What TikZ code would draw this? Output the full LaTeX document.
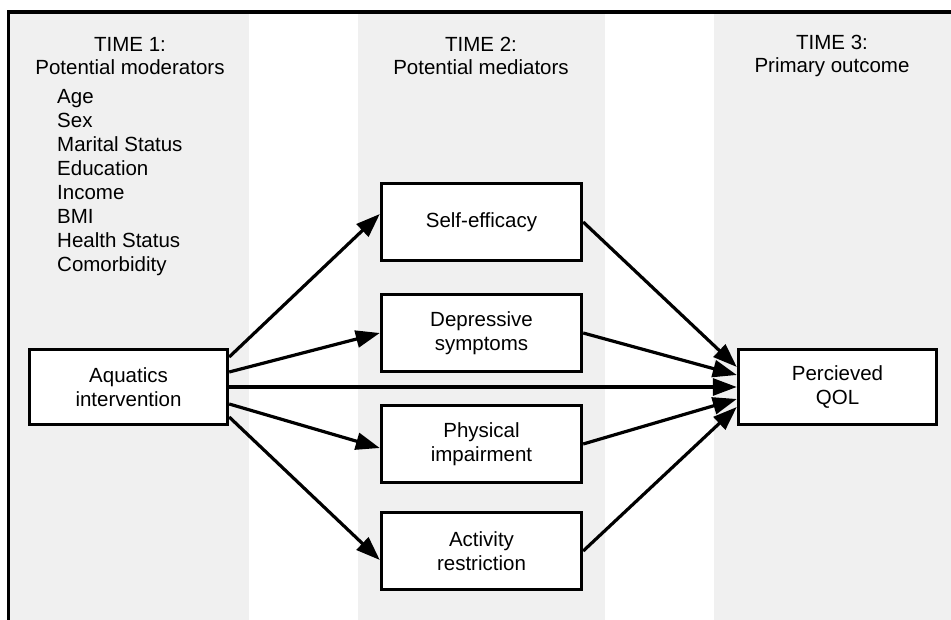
\documentclass[tikz,border=0pt]{standalone}
\usepackage{fontspec}
\setmainfont{Liberation Sans}
\usetikzlibrary{arrows.meta}
\definecolor{bandgray}{RGB}{240,240,240}

\begin{document}
\begin{tikzpicture}[x=1pt,y=-1pt,
    every node/.style={font=\fontsize{20.5}{24}\selectfont},
    box/.style={draw,line width=3.4pt,fill=white,minimum width=198pt,minimum height=75pt,align=center,inner sep=2pt},
    medbox/.style={box,minimum width=200pt,minimum height=77pt},
    title/.style={align=center,font=\fontsize{20.5}{22.5}\selectfont},
    link/.style={-{Triangle[length=24pt,width=17pt]},line width=3.2pt}]
    \useasboundingbox (0,0) rectangle (951,620);

    % Background bands
    \fill[bandgray] (10,12) rectangle (249,620);
    \fill[bandgray] (358,12) rectangle (605,620);
    \fill[bandgray] (714,12) rectangle (951,620);

    % Frame
    \draw[line width=3.5pt] (8.5,620) -- (8.5,12) -- (951,12);

    % Column titles
    \node[title] (time1) at (130,56) {TIME 1:\\Potential moderators};
    \node[title] (time2) at (481,56) {TIME 2:\\Potential mediators};
    \node[title] (time3) at (832,56) {TIME 3:\\Primary outcome};

    % Moderators
    \node[align=left,anchor=west,inner sep=0pt] (mods) at (57,182.5)
      {Age\\Sex\\Marital Status\\Education\\Income\\BMI\\Health Status\\Comorbidity};

    % Boxes
    \node[box] (aqua) at (128.5,387) {Aquatics\\intervention};
    \node[medbox] (selfeff) at (481.5,222) {Self-efficacy};
    \node[medbox] (depress) at (481.5,333) {Depressive\\symptoms};
    \node[medbox] (physimp) at (481.5,444) {Physical\\impairment};
    \node[medbox] (actres) at (481.5,551) {Activity\\restriction};
    \node[box] (qol) at (837.5,387) {Percieved\\QOL};

    % Paths through the mediators
    \draw[link] ([yshift=30pt]aqua.east) -- ([yshift=8pt]selfeff.west);
    \draw[link] ([yshift=15pt]aqua.east) -- (depress.west);
    \draw[link] ([yshift=-17pt]aqua.east) -- ([yshift=-4pt]physimp.west);
    \draw[link] ([yshift=-30pt]aqua.east) -- ([yshift=-9pt]actres.west);

    % Direct path
    \draw[link] (aqua.east) -- (qol.west);

    % Mediators to outcome
    \draw[link] (selfeff.east) -- ([yshift=20pt]qol.west);
    \draw[link] (depress.east) -- ([yshift=12pt]qol.west);
    \draw[link] (physimp.east) -- ([yshift=-12pt]qol.west);
    \draw[link] (actres.east) -- ([yshift=-20pt]qol.west);
  \end{tikzpicture}
\end{document}
